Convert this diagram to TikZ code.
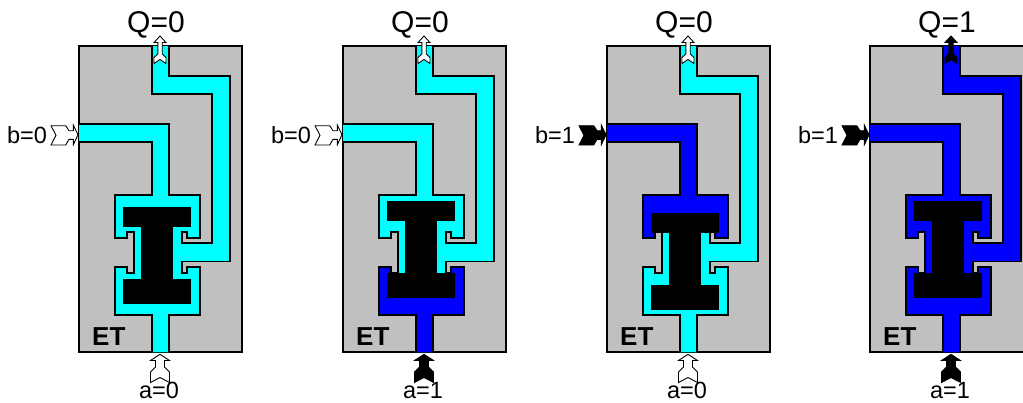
\documentclass[tikz,border=0pt]{standalone}
\usepackage{fontspec}
\setmainfont{Liberation Sans}
\definecolor{lowcol}{RGB}{0,255,255}
\definecolor{highcol}{RGB}{0,0,255}
\definecolor{bodycol}{RGB}{192,192,192}
\tikzset{
	wall/.style={draw=black,line width=1.7pt},
	sig0/.style={draw=black,fill=white,line width=0.9pt},
	sig1/.style={draw=black,fill=black,line width=0.9pt},
	biglabel/.style={inner sep=0pt,anchor=base,font=\fontsize{30}{30}\selectfont},
	smalllabel/.style={inner sep=0pt,anchor=base,font=\fontsize{23.5}{24}\selectfont},
	etlabel/.style={inner sep=0pt,anchor=base west,font=\fontsize{26}{26}\selectfont\bfseries}
}
% the three walls of the channel
\def\wallup{(79,123.7) -- (169.3,123.7) -- (169.3,195) -- (200,195) -- (200,237.7) -- (187.3,237.7) -- (187.3,231.7) -- (181.7,231.7) -- (181.7,243.3) -- (211.7,243.3) -- (211.7,94) -- (152.3,94) -- (152.3,46)}
\def\wallright{(169.3,46) -- (169.3,76) -- (230,76) -- (230,261.5) -- (181.7,261.5) -- (181.7,273.3) -- (187.3,273.3) -- (187.3,267.3) -- (200,267.3) -- (200,315) -- (169.3,315) -- (169.3,352)}
\def\wallleft{(151.7,352) -- (151.7,315) -- (115,315) -- (115,267.3) -- (127.3,267.3) -- (127.3,273.3) -- (134.3,273.3) -- (134.3,231.7) -- (127.3,231.7) -- (127.3,237.7) -- (115,237.7) -- (115,195) -- (151.7,195) -- (151.7,141.7) -- (79,141.7)}
% #1 shift, #2 top colour, #3 middle colour, #4 bottom colour, #5 piston shift, #6 a, #7 b, #8 Q
\newcommand{\etgate}[8]{
	\begin{scope}[xshift=#1pt]
		\fill[bodycol] (79,46) rectangle (242,352);
		\draw[wall,line width=2pt] (79,46) rectangle (242,352);
		\begin{scope}
			\clip \wallup -- \wallright -- \wallleft -- cycle;
			\fill[#3] (70,40) rectangle (240,360);
			\fill[#2] (70,100) rectangle (205,232.7);
			\fill[#2] (100,225) rectangle (130,240);
			\fill[#2] (184,225) rectangle (205,240);
			\fill[#4] (100,272.7) rectangle (205,360);
			\fill[#4] (100,262) rectangle (130,280);
			\fill[#4] (184,262) rectangle (205,280);
		\end{scope}
		\draw[wall] \wallup;
		\draw[wall] \wallright;
		\draw[wall] \wallleft;
		\begin{scope}[yshift=-#5pt]
			\fill[black] (123,200.7) rectangle (190.5,220.7);
			\fill[black] (123,272.7) rectangle (190.5,298.3);
			\fill[black] (141,215) rectangle (172.5,280);
		\end{scope}
		\path[sig#8] (160,36) -- (166,42.5) -- (162.2,42.5) -- (162.2,54) -- (166,57.5) -- (166,63.5) -- (160,59.5) -- (154,63.5) -- (154,57.5) -- (157.8,54) -- (157.8,42.5) -- (154,42.5) -- cycle;
		\path[sig#7] (78,134.8) -- (73.3,144.8) -- (73.3,139.3) -- (69,139.3) -- (65.7,145) -- (51,145) -- (56,135.3) -- (51,125.7) -- (65.7,125.7) -- (69,130.7) -- (73.3,130.7) -- (73.3,125) -- cycle;
		\path[sig#6] (160,354.3) -- (169.5,360.5) -- (164.5,360.5) -- (164.5,367) -- (169.5,372) -- (169.5,382.5) -- (160,377.5) -- (150.5,382.5) -- (150.5,372) -- (155.5,367) -- (155.5,360.5) -- (150.5,360.5) -- cycle;
		\node[biglabel](qlabel#1) at (156,32) {Q=#8};
		\node[smalllabel](blabel#1) at (27,143) {b=#7};
		\node[smalllabel](alabel#1) at (159,398) {a=#6};
		\node[etlabel](etname#1) at (92,345) {ET};
	\end{scope}
}

\begin{document}
\begin{tikzpicture}[x=1pt,y=-1pt]
	\clip (0,0) rectangle (1023,402);
	\fill[white] (0,0) rectangle (1023,402);
	\etgate{0}{lowcol}{lowcol}{lowcol}{6}{0}{0}{0}
	\etgate{264}{lowcol}{lowcol}{highcol}{0}{1}{0}{0}
	\etgate{528}{highcol}{lowcol}{lowcol}{12}{0}{1}{0}
	\etgate{791}{highcol}{highcol}{highcol}{0}{1}{1}{1}
\end{tikzpicture}
\end{document}
